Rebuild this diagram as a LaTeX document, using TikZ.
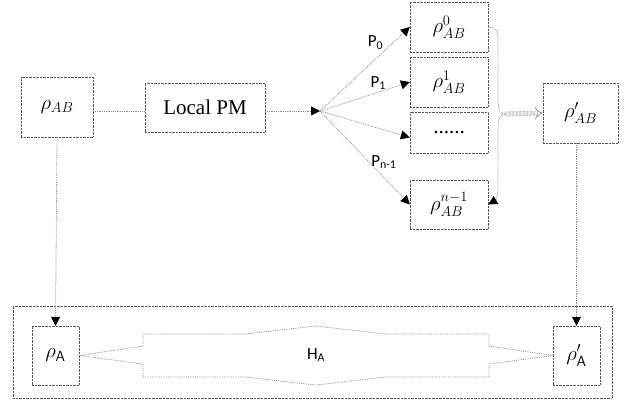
\documentclass[tikz,border=0pt]{standalone}
\usepackage{amsmath}
\usepackage{fontspec}
\setmainfont{Liberation Serif}
\newfontfamily\calib{Carlito}
\usepackage{tikz}
\usetikzlibrary{arrows.meta,positioning,calc}
\definecolor{boxgray}{HTML}{555555}
\definecolor{linegray}{HTML}{8a8a8a}

\begin{document}
\begin{tikzpicture}[
  x=1pt,y=-1pt,
  box/.style={rectangle,draw=boxgray,densely dotted,inner sep=0pt,align=center,
    text=black,font=\rmfamily\fontsize{21}{24}\selectfont},
  link/.style={linegray,densely dotted,thick},
  arrow/.style={-{Triangle[length=9pt,width=9pt,black]},linegray,densely dotted,thick},
  plabel/.style={font=\calib\fontsize{17}{19}\selectfont,text=black,inner sep=1pt},
]
\useasboundingbox (0,0) rectangle (637,410);

% Left part
\node[box,minimum width=72pt,minimum height=60pt] (rhoAB) at (57,107) {$\rho_{AB}$};
\node[box,minimum width=120pt,minimum height=49pt] (localpm) at (205,107.5) {Local PM};
\coordinate (branch) at (320,111);

% Outcome boxes
\node[box,minimum width=78pt,minimum height=50pt] (rho0) at (449,27) {$\rho_{AB}^{0}$};
\node[box,minimum width=78pt,minimum height=50pt] (rho1) at (449,82) {$\rho_{AB}^{1}$};
\node[box,minimum width=78pt,minimum height=41pt] (rhodots) at (449,132.5) {......};
\node[box,minimum width=78pt,minimum height=49pt] (rhon) at (449,204.5) {$\rho_{AB}^{n-1}$};
\node[box,minimum width=75pt,minimum height=60pt] (rhoP) at (580.5,113) {$\rho'_{AB}$};
\coordinate (merge) at (505,114);

% Bottom part
\node[box,minimum width=599pt,minimum height=92pt] (hbox) at (312.5,352) {};
\node[box,minimum width=47pt,minimum height=59pt] (rhoA) at (55.5,355.5) {$\rho_{\mathsf{A}}$};
\node[box,minimum width=47pt,minimum height=59pt] (rhoPA) at (576.5,355.5) {$\rho'_{\mathsf{A}}$};
\draw[link] (rhoA.east) -- (143,346) -- (143,334) -- (245,334) -- (316,326)
  -- (385,334) -- (489,334) -- (489,346) -- (rhoPA.west) -- (489,364)
  -- (489,377) -- (385,377) -- (316,385) -- (245,377) -- (143,377)
  -- (143,364) -- cycle;
\node[plabel] (hA) at (316,355) {H\textsubscript{A}};

% Arrows
\draw[link] (rhoAB.east |- branch) -- (localpm.west |- branch);
\draw[arrow] (localpm.east |- branch) -- (branch);
\draw[arrow] (branch) -- node[plabel,above left=0pt and 0pt,pos=0.72]{P\textsubscript{0}} (rho0.west);
\draw[arrow] (branch) -- node[plabel,above=1pt,pos=0.65]{P\textsubscript{1}} (rho1.west);
\draw[arrow] (branch) -- ([yshift=-5pt]rhodots.west);
\draw[arrow] (branch) -- node[plabel,above right=-3pt and -4pt,pos=0.6]{P\textsubscript{n-1}} (rhon.west);

% Merging brace
\draw[link] (rho0.east) .. controls (498,27) and (498,32) .. (498,45) -- (498,100)
  .. controls (498,110) and (500,114) .. (merge);
\draw[arrow] (merge) .. controls (500,114) and (498,118) .. (498,128) -- (498,186)
  .. controls (498,195) and (496,200) .. (rhon.east);
\draw[boxgray,densely dotted,double,double distance=4pt,-{Implies}] (merge) -- (rhoP.west);

% Down to reduced states
\draw[arrow] (rhoAB.south) -- (rhoA.north);
\draw[arrow] (rhoP.south -| rhoPA.north) -- (rhoPA.north);

\end{tikzpicture}
\end{document}
